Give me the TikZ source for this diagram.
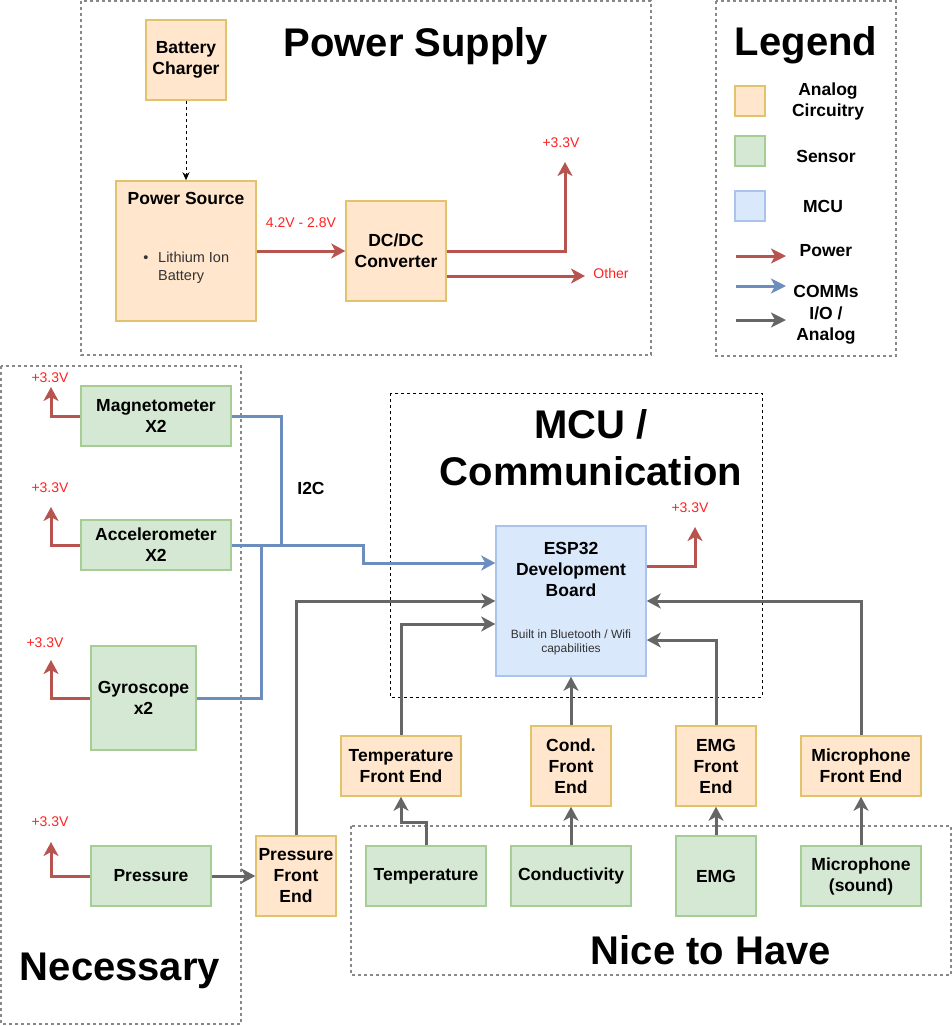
\documentclass[tikz,border=0pt]{standalone}
\usepackage{fontspec}
\setmainfont{Liberation Sans}
\usepackage{tikz}
\usetikzlibrary{arrows.meta,positioning}

\definecolor{anafill}{HTML}{FFE6CC}
\definecolor{anadraw}{HTML}{E2C26A}
\definecolor{senfill}{HTML}{D5E8D4}
\definecolor{sendraw}{HTML}{A6CD94}
\definecolor{mcufill}{HTML}{DAE8FC}
\definecolor{mcudraw}{HTML}{A9C4EB}
\definecolor{pwr}{HTML}{B85450}
\definecolor{com}{HTML}{6C8EBF}
\definecolor{io}{HTML}{666666}
\definecolor{vred}{HTML}{FF2222}
\definecolor{grpgray}{HTML}{888888}

\newcommand\lblfont{\fontsize{17.5}{21}\selectfont\bfseries}
\newcommand\ttlfont{\fontsize{40}{47}\selectfont\bfseries}

\begin{document}
\begin{tikzpicture}[x=1pt,y=-1pt,
	box/.style={draw, line width=1.5pt, inner sep=0pt, align=center, font=\lblfont},
	ana/.style={box, fill=anafill, draw=anadraw},
	sen/.style={box, fill=senfill, draw=sendraw},
	mcu/.style={box, fill=mcufill, draw=mcudraw},
	lbl/.style={align=center, font=\lblfont, inner sep=0pt},
	ttl/.style={align=center, font=\ttlfont, inner sep=0pt},
	volt/.style={text=vred, font=\fontsize{14}{16}\selectfont, inner sep=0pt},
	note/.style={align=center, font=\fontsize{12}{14}\selectfont, text=black!80, inner sep=0pt},
	wire/.style={line width=3pt, -{Stealth[length=14pt,width=15pt,inset=4pt]}},
	pline/.style={wire, draw=pwr},
	cline/.style={wire, draw=com},
	iline/.style={wire, draw=io},
	grp/.style={draw=grpgray, line width=1.5pt, dash pattern=on 3pt off 3pt},
	mgrp/.style={draw=black, line width=1pt, dash pattern=on 3pt off 3pt}]
	\useasboundingbox (0,0) rectangle (952,1026);
	\draw[grp] (81,1) rectangle (651,355);
	\draw[grp] (716,1) rectangle (896,356);
	\draw[grp] (1,366) rectangle (241,1024);
	\draw[grp] (351,826) rectangle (951,975);
	\draw[mgrp] (390,393) rectangle (762,697);

	\node[ttl] (tps) at (416,46) {Power Supply};
	\node[ttl] (tlg) at (806,45) {Legend};
	\node[ttl] (tmcu) at (591,448) {MCU /\\Communication};
	\node[ttl] (tnec) at (120,971) {Necessary};
	\node[ttl] (tnice) at (711,950) {Nice to Have};

	\node[ana, minimum width=80pt, minimum height=80pt] (chg) at (186,60) {Battery\\Charger};
	\node[ana, minimum width=140pt, minimum height=140pt] (src) at (186,251) {};
	\node[lbl] (srct) at (186,198) {Power Source};
	\node[note, font=\fontsize{14.5}{18}\selectfont] (srcb) at (146,259) {\textbullet};
	\node[note, font=\fontsize{14.5}{18}\selectfont, align=left, anchor=west] (srcl) at (158,268) {Lithium Ion\\Battery};
	\node[ana, minimum width=100pt, minimum height=100pt] (dcdc) at (396,251) {DC/DC\\Converter};
	\coordinate (p33) at (565,162);
	\coordinate (poth) at (585,276);
	\node[volt] (vps) at (561,143) {+3.3V};
	\node[volt] (vin) at (301,223) {4.2V - 2.8V};
	\node[volt] (voth) at (611,273) {Other};
	\draw[black, line width=1pt, dash pattern=on 3pt off 3pt, -{Stealth[length=8pt,width=7pt]}] (chg.south) -- (src.north);
	\draw[pline] (src.east) -- (dcdc.west);
	\draw[pline] (dcdc.east) -| (p33);
	\draw[pline] ([yshift=-25pt]dcdc.east) -- (poth);

	\foreach \n/\y/\t in {la/101/ana, ls/151/sen, lm/206/mcu}
	{
		\node[\t, minimum width=30pt, minimum height=30pt] (\n) at (750,\y) {};
	}
	\foreach \n/\y/\t in {lpa/256/pwr, lpc/286/com, lpi/320/io}
	{
		\coordinate (\n a) at (736,\y);
		\coordinate (\n b) at (786,\y);
		\draw[line width=3pt, draw=\t, -{Stealth[length=15pt,width=15pt,inset=4pt]}] (\n a) -- (\n b);
	}
	\node[lbl] (lta) at (828,101) {Analog\\Circuitry};
	\node[lbl] (lts) at (826,156) {Sensor};
	\node[lbl] (ltm) at (823,206) {MCU};
	\node[lbl] (ltp) at (826,251) {Power};
	\node[lbl] (ltc) at (826,291) {COMMs};
	\node[lbl] (lti) at (826,326) {I/O /\\Analog};

	\node[sen, minimum width=150pt, minimum height=60pt] (mag) at (156,416) {Magnetometer\\X2};
	\node[sen, minimum width=150pt, minimum height=50pt] (acc) at (156,545) {Accelerometer\\X2};
	\node[sen, minimum width=105pt, minimum height=104pt] (gyr) at (143.5,698) {Gyroscope\\x2};
	\node[sen, minimum width=120pt, minimum height=60pt] (prs) at (151,876) {Pressure};
	\node[ana, minimum width=80pt, minimum height=80pt] (prsfe) at (296,876) {Pressure\\Front\\End};
	\foreach \n/\x/\y/\vx/\vy in {mag/51/387/50/378, acc/51/507/50/488, gyr/51/660/45/643, prs/51/842/50/822}
	{
		\coordinate (v\n) at (\x,\y);
		\node[volt] (t\n) at (\vx,\vy) {+3.3V};
		\draw[pline] (\n.west) -| (v\n);
	}
	\coordinate (bus1) at (281,546);
	\coordinate (bus2) at (261,546);
	\node[lbl] (i2c) at (311,488) {I2C};

	\node[mcu, minimum width=150pt, minimum height=150pt] (esp) at (571,601) {};
	\node[lbl] (espt) at (571,569) {ESP32\\Development\\Board};
	\node[note] (espn) at (571,642) {Built in Bluetooth / Wifi\\capabilities};
	\coordinate (vesp) at (695,527);
	\node[volt] (tesp) at (690,508) {+3.3V};
	\draw[pline] ([yshift=35pt]esp.east) -| (vesp);

	\draw[cline, -] (mag.east) -| (bus1);
	\draw[cline, -] (gyr.east) -| (bus2);
	\draw[cline] (acc.east) -- ++(132,0) |- ([yshift=38pt]esp.west);

	\node[ana, minimum width=120pt, minimum height=60pt] (tmpfe) at (401,766) {Temperature\\Front End};
	\node[ana, minimum width=80pt, minimum height=80pt] (cndfe) at (571,766) {Cond.\\Front\\End};
	\node[ana, minimum width=80pt, minimum height=80pt] (emgfe) at (716,766) {EMG\\Front\\End};
	\node[ana, minimum width=120pt, minimum height=60pt] (micfe) at (861,766) {Microphone\\Front End};
	\node[sen, minimum width=120pt, minimum height=60pt] (tmp) at (426,876) {Temperature};
	\node[sen, minimum width=120pt, minimum height=60pt] (cnd) at (571,876) {Conductivity};
	\node[sen, minimum width=80pt, minimum height=80pt] (emg) at (716,876) {EMG};
	\node[sen, minimum width=120pt, minimum height=60pt] (mic) at (861,876) {Microphone\\(sound)};

	\draw[iline] (prs.east) -- (prsfe.west);
	\draw[iline] (prsfe.north) |- (esp.west);
	\draw[iline] (tmpfe.north) |- ([yshift=-23pt]esp.west);
	\draw[iline] (cndfe.north) -- (esp.south);
	\draw[iline] (emgfe.north) |- ([yshift=-39pt]esp.east);
	\draw[iline] (micfe.north) |- (esp.east);
	\draw[iline] (tmp.north) -- ++(0,-23) -| (tmpfe.south);
	\foreach \n in {cnd, emg, mic}
	{
		\draw[iline] (\n.north) -- (\n fe.south);
	}
\end{tikzpicture}
\end{document}
